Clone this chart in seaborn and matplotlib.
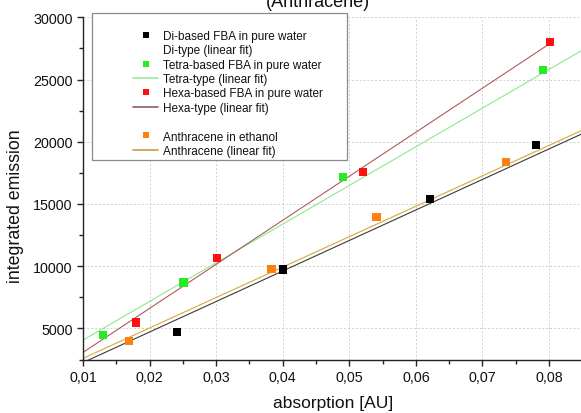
import matplotlib
matplotlib.use("Agg")
import matplotlib.pyplot as plt
from matplotlib.lines import Line2D
from matplotlib.patches import Rectangle
from matplotlib.ticker import FixedLocator, MultipleLocator
import seaborn as sns
import pandas as pd

# ---------------- data ----------------
di_x = [0.0241, 0.0400, 0.0621, 0.0780]
di_y = [4730, 9730, 15400, 19730]
tetra_x = [0.0130, 0.0251, 0.0491, 0.0791]
tetra_y = [4460, 8690, 17140, 25750]
hexa_x = [0.0180, 0.0301, 0.0521, 0.0801]
hexa_y = [5480, 10670, 17570, 27990]
anth_x = [0.0169, 0.0383, 0.0541, 0.0735]
anth_y = [4000, 9780, 13930, 18350]

# linear-fit lines (end points)
di_fit_x = [0.0100, 0.0848]
di_fit_y = [2255, 20600]
tetra_fit_x = [0.0100, 0.0848]
tetra_fit_y = [4060, 27300]
hexa_fit_x = [0.0100, 0.0801]
hexa_fit_y = [3070, 27880]
anth_fit_x = [0.0100, 0.0848]
anth_fit_y = [2590, 20880]

series_names = ["Di-based FBA in pure water", "Tetra-based FBA in pure water",
                "Hexa-based FBA in pure water", "Anthracene in ethanol"]
fit_names = ["Di-type (linear fit)", "Tetra-type (linear fit)",
             "Hexa-type (linear fit)", "Anthracene (linear fit)"]
point_colors = ["#000000", "#22EE22", "#FF1010", "#FF8010"]
fit_colors = ["#3a3a3a", "#8EE88E", "#B05A5A", "#D8A838"]
legend_fit_colors = ["none", "#9EEA9E", "#8E5E5E", "#C8A040"]

x_ticks = [0.01, 0.02, 0.03, 0.04, 0.05, 0.06, 0.07, 0.08]
x_tick_labels = ["0,01", "0,02", "0,03", "0,04", "0,05", "0,06", "0,07", "0,08"]
y_ticks = [5000, 10000, 15000, 20000, 25000, 30000]
y_tick_labels = ["5000", "10000", "15000", "20000", "25000", "30000"]

title_text = "(Anthracene)"
x_label = "absorption [AU]"
y_label = "integrated emission"

# ---------------- frames ----------------
pts = pd.concat([
    pd.DataFrame({"x": xs, "y": ys, "series": n})
    for xs, ys, n in zip([di_x, tetra_x, hexa_x, anth_x],
                         [di_y, tetra_y, hexa_y, anth_y], series_names)
])
fits = pd.concat([
    pd.DataFrame({"x": xs, "y": ys, "fit": n})
    for xs, ys, n in zip([di_fit_x, tetra_fit_x, hexa_fit_x, anth_fit_x],
                         [di_fit_y, tetra_fit_y, hexa_fit_y, anth_fit_y], fit_names)
])

# ---------------- figure ----------------
sns.set_theme(style="ticks")
plt.rcParams["font.family"] = ["Liberation Sans", "DejaVu Sans"]

W, H = 581, 414
fig = plt.figure(figsize=(W / 100, H / 100), dpi=100)
ax = fig.add_axes([83 / W, 1 - 360.5 / H, (W - 83) / W, (360.5 - 18.3) / H])

sns.lineplot(data=fits, x="x", y="y", hue="fit", hue_order=fit_names,
             palette=fit_colors, legend=False, ax=ax, linewidth=0.8,
             estimator=None, sort=False, zorder=2)
sns.scatterplot(data=pts, x="x", y="y", hue="series", hue_order=series_names,
                palette=point_colors, marker="s", s=36, linewidth=0,
                legend=False, ax=ax, zorder=3)

ax.set_xlim(0.01, 0.0848)
ax.set_ylim(2500, 30000)
ax.xaxis.set_major_locator(FixedLocator(x_ticks))
ax.set_xticklabels(x_tick_labels)
ax.xaxis.set_minor_locator(MultipleLocator(0.005))
ax.yaxis.set_major_locator(FixedLocator(y_ticks))
ax.set_yticklabels(y_tick_labels)
ax.yaxis.set_minor_locator(MultipleLocator(2500))

ax.tick_params(axis="both", which="major", direction="out", length=4.5,
               width=1.0, color="#222222", labelsize=10.3, pad=3,
               labelcolor="#111111")
ax.tick_params(axis="both", which="minor", direction="out", length=3,
               width=1.0, color="#222222")

ax.grid(True, which="major", color="#d0d0d0", linewidth=0.7,
        linestyle=(0, (2, 2)))
for s in ["top", "right"]:
    ax.spines[s].set_visible(False)
for s in ["left", "bottom"]:
    ax.spines[s].set_color("#222222")
    ax.spines[s].set_linewidth(1.0)

ax.set_xlabel(x_label, fontsize=12.5, color="#111111")
ax.set_ylabel(y_label, fontsize=12.8, color="#111111")
ax.xaxis.label.set_verticalalignment("center")
ax.yaxis.label.set_verticalalignment("center")
ax.xaxis.set_label_coords((333 - 83) / (W - 83), (360.5 - 404) / 342.2)
ax.yaxis.set_label_coords((15.7 - 83) / (W - 83), (360.5 - 206.5) / 342.2)

fig.text(317.5 / W, 1 - 7 / H, title_text, ha="center", va="baseline",
         fontsize=13, color="#111111")

# legend box
ax.add_patch(Rectangle((92 / W, 1 - 160.7 / H), (346.7 - 92) / W, (160.7 - 14) / H,
                       transform=fig.transFigure, facecolor="white",
                       edgecolor="#8a8a8a", linewidth=0.9, zorder=4, clip_on=False))

handles = []
labels = []
for i in range(4):
    if i == 3:
        handles.append(Line2D([], [], color="none"))
        labels.append(" ")
    handles.append(Line2D([], [], marker="s", color=point_colors[i], linestyle="none",
                          markersize=4.8, markeredgewidth=0))
    labels.append(series_names[i])
    handles.append(Line2D([], [], color=legend_fit_colors[i], linewidth=1.2))
    labels.append(fit_names[i])

leg = ax.legend(handles, labels, loc="upper left",
                bbox_to_anchor=(133 / W, 1 - 31 / H), bbox_transform=fig.transFigure,
                frameon=False, fontsize=8.5, handlelength=2.15, handletextpad=0.4,
                labelspacing=0.2, borderpad=0, borderaxespad=0)
leg.set_zorder(6)
for t in leg.get_texts():
    t.set_color("#111111")

fig.savefig("out.png", dpi=100)
